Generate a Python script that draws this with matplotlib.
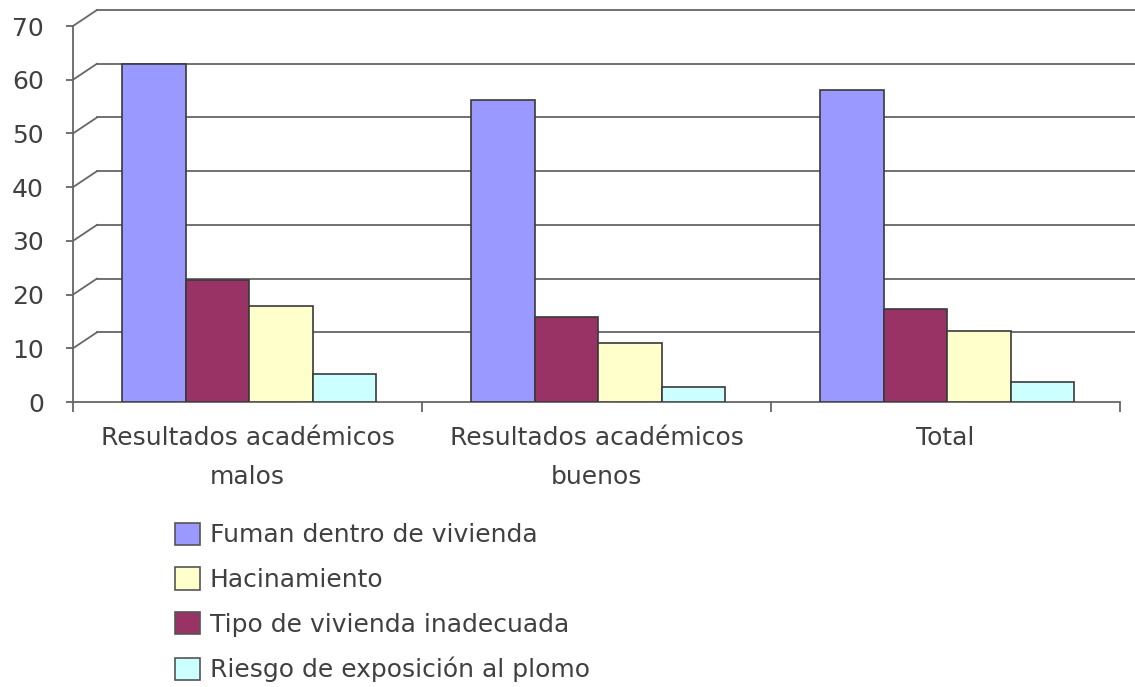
import matplotlib
matplotlib.use("Agg")
import matplotlib.pyplot as plt
import matplotlib.patches as mpatches
import numpy as np

categories = ["Resultados académicos\nmalos", "Resultados académicos\nbuenos", "Total"]
series_names = ["Fuman dentro de vivienda", "Tipo de vivienda inadecuada",
                "Hacinamiento", "Riesgo de exposición al plomo"]
fuman = [62.9, 56.2, 58.1]
tipo = [22.7, 15.8, 17.3]
hacinamiento = [17.9, 11.0, 13.2]
riesgo = [5.2, 2.8, 3.7]
y_ticks = [0, 10, 20, 30, 40, 50, 60, 70]

colors = ["#9999ff", "#993366", "#ffffcc", "#ccffff"]
text_color = "#404040"
grid_color = "#666666"

W, H, DPI = 1135, 687, 100
fig = plt.figure(figsize=(W / DPI, H / DPI), dpi=DPI)
ax_left, ax_right, ax_bottom, ax_top = 73, 1120, 402, 26
ax = fig.add_axes([ax_left / W, 1 - ax_bottom / H,
                   (ax_right - ax_left) / W, (ax_bottom - ax_top) / H])

ax.set_xlim(-0.5, 2.5)
ax.set_ylim(0, 70)

# back-wall offset (in pixels) converted to data units
off_px_x, off_px_y = 24, 16
dx = off_px_x * 3 / (ax_right - ax_left)
dy = off_px_y * 70 / (ax_bottom - ax_top)

for v in y_ticks[1:]:
    ax.plot([-0.5 + dx, 3.0], [v + dy, v + dy], color=grid_color, lw=1.3,
            zorder=1, clip_on=False)
    ax.plot([-0.5, -0.5 + dx], [v, v + dy], color=grid_color, lw=1.3,
            zorder=1, clip_on=False)

x = np.arange(len(categories))
w = 0.182
values = [fuman, tipo, hacinamiento, riesgo]
for i, vals in enumerate(values):
    ax.bar(x + (i - 1.5) * w + 0.005, vals, w, color=colors[i],
           edgecolor="#3a3a3a", linewidth=1.2, zorder=3)

for side in ["top", "right"]:
    ax.spines[side].set_visible(False)
for side in ["left", "bottom"]:
    ax.spines[side].set_color(grid_color)
    ax.spines[side].set_linewidth(1.3)

ax.set_yticks(y_ticks)
ax.tick_params(axis="y", length=5, width=1.3, color=grid_color, pad=16,
               labelsize=18, labelcolor=text_color)
ax.set_xticks(x)
ax.set_xticklabels(categories, linespacing=1.8)
ax.tick_params(axis="x", which="major", length=0, pad=17, labelsize=18,
               labelcolor=text_color)
ax.set_xticks([-0.5, 0.5, 1.5, 2.5], minor=True)
ax.tick_params(axis="x", which="minor", length=7, width=1.3, color=grid_color)

legend_order = [0, 2, 1, 3]
handles = [mpatches.Patch(facecolor=colors[i], edgecolor="#555555", linewidth=1.2,
                          label=series_names[i]) for i in legend_order]
fig.legend(handles=handles, loc="upper left",
           bbox_to_anchor=(152 / W, 1 - 500 / H), frameon=False,
           fontsize=18, labelcolor=text_color, handlelength=1.0, handleheight=1.0,
           handletextpad=0.4, labelspacing=0.8)

fig.savefig("out.png", dpi=DPI)
